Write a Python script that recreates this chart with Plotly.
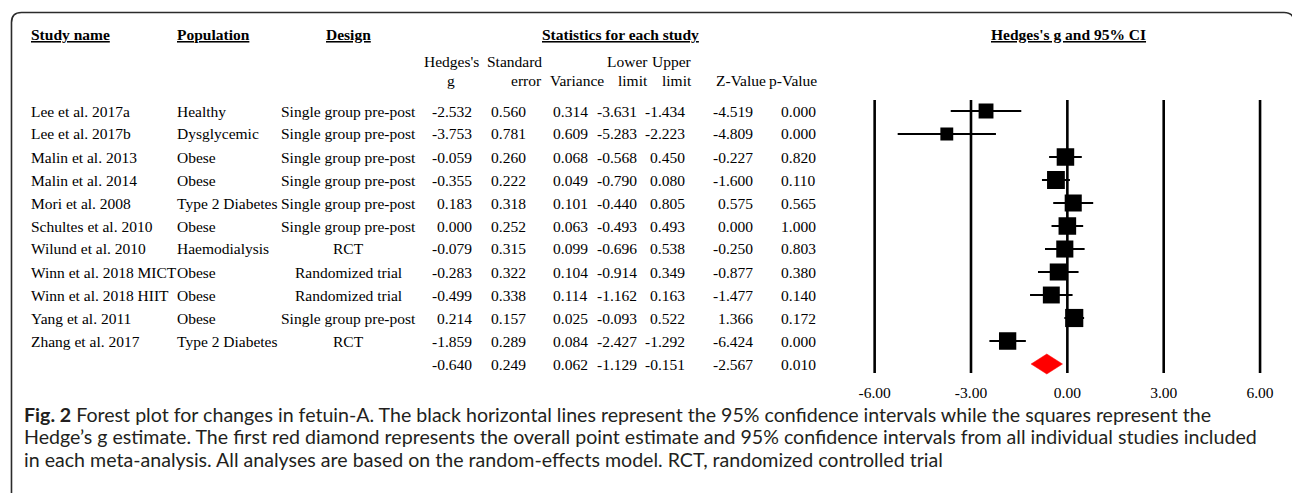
import numpy as np
import plotly.graph_objects as go

# ---------------- data ----------------
studies = ["Lee et al. 2017a", "Lee et al. 2017b", "Malin et al. 2013", "Malin et al. 2014",
           "Mori et al. 2008", "Schultes et al. 2010", "Wilund et al. 2010",
           "Winn et al. 2018 MICT", "Winn et al. 2018 HIIT", "Yang et al. 2011", "Zhang et al. 2017"]
populations = ["Healthy", "Dysglycemic", "Obese", "Obese", "Type 2 Diabetes", "Obese",
               "Haemodialysis", "Obese", "Obese", "Obese", "Type 2 Diabetes"]
designs = ["Single group pre-post", "Single group pre-post", "Single group pre-post",
           "Single group pre-post", "Single group pre-post", "Single group pre-post", "RCT",
           "Randomized trial", "Randomized trial", "Single group pre-post", "RCT"]
hedges_g = [-2.532, -3.753, -0.059, -0.355, 0.183, 0.000, -0.079, -0.283, -0.499, 0.214, -1.859]
std_error = [0.560, 0.781, 0.260, 0.222, 0.318, 0.252, 0.315, 0.322, 0.338, 0.157, 0.289]
variance = [0.314, 0.609, 0.068, 0.049, 0.101, 0.063, 0.099, 0.104, 0.114, 0.025, 0.084]
lower_limit = [-3.631, -5.283, -0.568, -0.790, -0.440, -0.493, -0.696, -0.914, -1.162, -0.093, -2.427]
upper_limit = [-1.434, -2.223, 0.450, 0.080, 0.805, 0.493, 0.538, 0.349, 0.163, 0.522, -1.292]
z_value = [-4.519, -4.809, -0.227, -1.600, 0.575, 0.000, -0.250, -0.877, -1.477, 1.366, -6.424]
p_value = [0.000, 0.000, 0.820, 0.110, 0.565, 1.000, 0.803, 0.380, 0.140, 0.172, 0.000]

overall_g = -0.640
overall_se = 0.249
overall_var = 0.062
overall_lower = -1.129
overall_upper = -0.151
overall_z = -2.567
overall_p = 0.010

axis_ticks = [-6, -3, 0, 3, 6]
stat_headers = [("Hedges's", "g"), ("Standard", "error"), ("", "Variance"), ("Lower", "limit"),
                ("Upper", "limit"), ("", "Z-Value"), ("", "p-Value")]
caption_lines = [
    "<b>Fig. 2</b> Forest plot for changes in fetuin-A. The black horizontal lines represent the 95% confidence intervals while the squares represent the",
    "Hedge\u2019s g estimate. The first red diamond represents the overall point estimate and 95% confidence intervals from all individual studies included",
    "in each meta-analysis. All analyses are based on the random-effects model. RCT, randomized controlled trial",
]

# ---------------- layout helpers ----------------
W, H = 1292, 493
SERIF = "Liberation Serif, Times New Roman, serif"
SANS = "Lato, Open Sans, sans-serif"
FS = 15.5


def px(x):
    return x / W


def py(y):
    return 1 - y / H


ROW0, ROWH = 111, 23  # pixel centre of first row, row pitch
n = len(studies)
rows = list(range(n))
summary_row = n

annotations = []


def txt(x, y, s, anchor="left", size=FS, family=SERIF, color="black", pad=1):
    annotations.append(dict(x=px(x), y=py(y), xref="paper", yref="paper", text=s,
                            showarrow=False, xanchor=anchor, yanchor="middle", borderpad=pad,
                            font=dict(family=family, size=size, color=color)))


# titles
txt(27, 34, "<b><u>Study name</u></b>")
txt(173, 34, "<b><u>Population</u></b>")
txt(347, 34, "<b><u>Design</u></b>", anchor="center")
txt(619, 34, "<b><u>Statistics for each study</u></b>", anchor="center")
txt(1068, 34, "<b><u>Hedges's g and 95% CI</u></b>", anchor="center")

# statistics column right edges (pixels)
col_right = [473, 527, 589, 638, 686, 754, 817]
header_pos = [("center", 450), ("right", 543), ("center", 576), ("right", 649),
              ("right", 693), ("center", 740), ("right", 818)]
for (l1, l2), (anc, hx) in zip(stat_headers, header_pos):
    if l1:
        txt(hx, 62, l1, anchor=anc)
    txt(hx, 80, l2, anchor=anc)

cols = [hedges_g, std_error, variance, lower_limit, upper_limit, z_value, p_value]
for i in rows:
    y = ROW0 + ROWH * i
    txt(27, y, studies[i])
    txt(173, y, populations[i])
    txt(347, y, designs[i], anchor="center")
    for c, xr in zip(cols, col_right):
        txt(xr, y, f"{c[i]:.3f}", anchor="right")

overall = [overall_g, overall_se, overall_var, overall_lower, overall_upper, overall_z, overall_p]
ys = ROW0 + ROWH * summary_row
for v, xr in zip(overall, col_right):
    txt(xr, ys, f"{v:.3f}", anchor="right")

# caption
for k, line in enumerate(caption_lines):
    txt(21, 414 + 22.5 * k, line, size=19.6, family=SANS, color="#231f20", pad=0)

# ---------------- forest plot ----------------
g = np.array(hedges_g)
v = np.array(variance)
lo = np.array(lower_limit)
hi = np.array(upper_limit)

# DerSimonian-Laird between-study variance -> random-effects weights -> box size
w = 1 / v
gbar = np.sum(w * g) / np.sum(w)
Q = np.sum(w * (g - gbar) ** 2)
C = np.sum(w) - np.sum(w ** 2) / np.sum(w)
tau2 = max(0.0, (Q - (n - 1)) / C)
box = 13.9 / np.sqrt(v + tau2)

x_left_px, x_right_px = 874, 1260          # pixel positions of -6 and 6
ppu = (x_right_px - x_left_px) / 12
pad = 14
xr0 = -6 - pad / ppu
xr1 = 6 + pad / ppu
y_top_px, y_bot_px = 95, 375
yr_top = (y_top_px - ROW0) / ROWH
yr_bot = (y_bot_px - ROW0) / ROWH

fig = go.Figure()

fig.add_trace(go.Scatter(
    x=g, y=rows, mode="markers",
    marker=dict(symbol="square", size=box, color="black", opacity=1, line=dict(width=0)),
    error_x=dict(type="data", symmetric=False, array=hi - g, arrayminus=g - lo,
                 width=0, thickness=2, color="black"),
    hoverinfo="skip", showlegend=False))

dh = 10 / ROWH
fig.add_trace(go.Scatter(
    x=[overall_lower, overall_g, overall_upper, overall_g, overall_lower],
    y=[summary_row, summary_row - dh, summary_row, summary_row + dh, summary_row],
    mode="lines", fill="toself", fillcolor="#ff0000", line=dict(color="#ff0000", width=0.5),
    hoverinfo="skip", showlegend=False))

shapes = []
line_top = (100 - ROW0) / ROWH
line_bot = (373 - ROW0) / ROWH
for t in axis_ticks:
    shapes.append(dict(type="line", xref="x", yref="y", x0=t, x1=t, y0=line_top, y1=line_bot,
                       line=dict(color="black", width=2.6), layer="below"))

# rounded frame
x0b, x1b, ytb, ybb, r = 9.5, 1294, 12.5, 520, 10
path = (f"M {px(x0b)},{py(ybb)} L {px(x0b)},{py(ytb + r)} "
        f"Q {px(x0b)},{py(ytb)} {px(x0b + r)},{py(ytb)} "
        f"L {px(x1b - r)},{py(ytb)} Q {px(x1b)},{py(ytb)} {px(x1b)},{py(ytb + r)} "
        f"L {px(x1b)},{py(ybb)}")
shapes.append(dict(type="path", xref="paper", yref="paper", path=path,
                   line=dict(color="#2b2b2b", width=1.6)))

fig.update_layout(
    width=W, height=H, margin=dict(l=0, r=0, t=0, b=0),
    paper_bgcolor="white", plot_bgcolor="white",
    xaxis=dict(domain=[px(x_left_px - pad), px(x_right_px + pad)], range=[xr0, xr1],
               tickvals=axis_ticks, ticktext=[f"{t:.2f}" for t in axis_ticks],
               showgrid=False, zeroline=False, showline=False, ticks="outside", ticklen=3,
               tickcolor="white", tickfont=dict(family=SERIF, size=FS, color="black"),
               fixedrange=True),
    yaxis=dict(domain=[py(y_bot_px), py(y_top_px)], range=[yr_bot, yr_top],
               showgrid=False, zeroline=False, showline=False, showticklabels=False,
               fixedrange=True),
    shapes=shapes, annotations=annotations, showlegend=False,
)

fig.write_html("out.html", config={"displayModeBar": False},
               post_script="document.body.style.margin='0px';")
